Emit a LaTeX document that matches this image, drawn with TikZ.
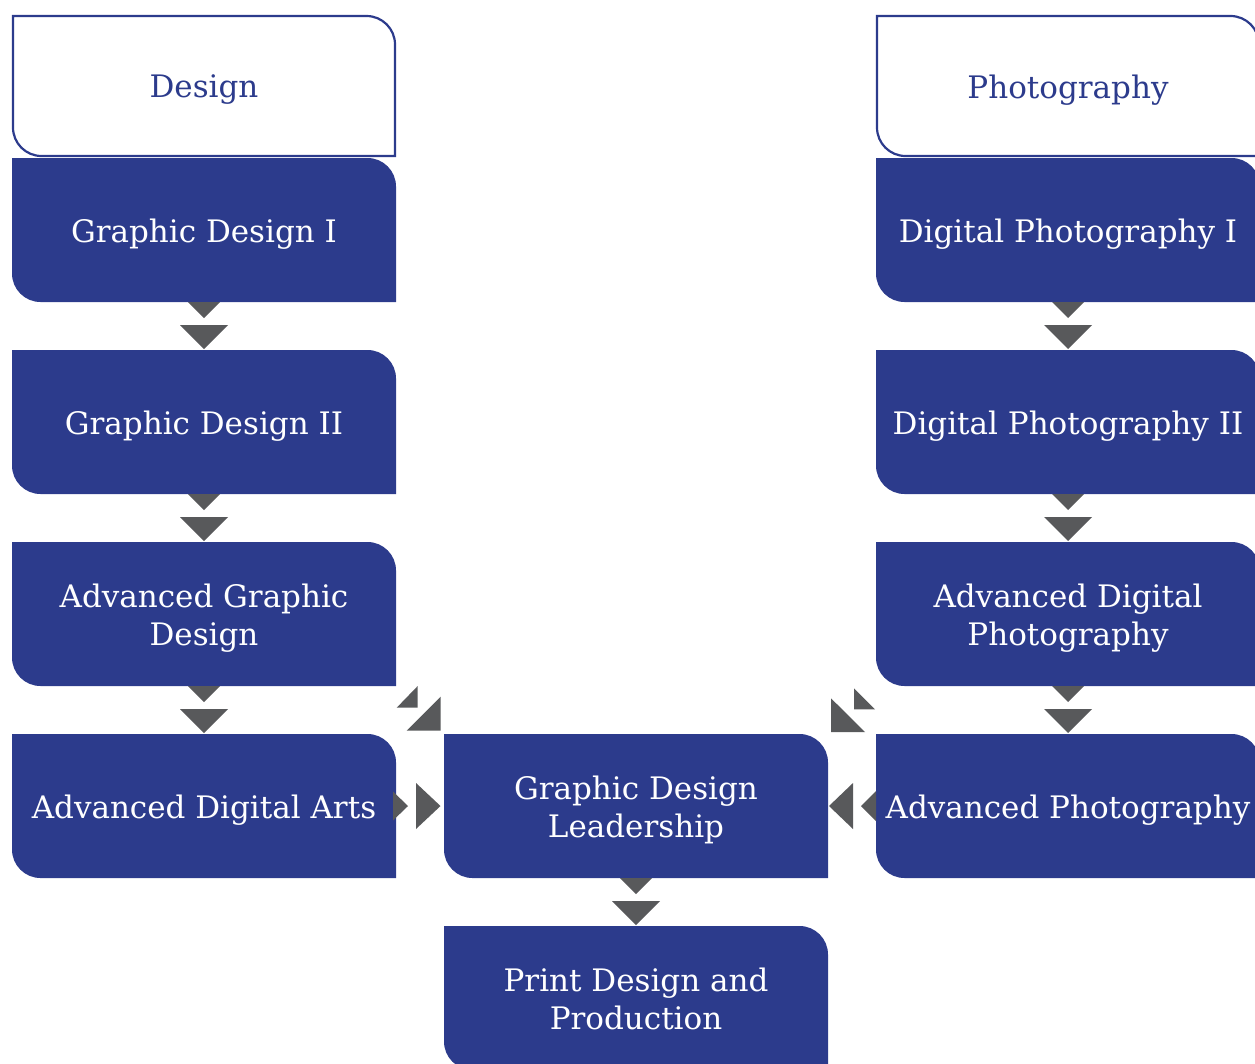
\documentclass[tikz,border=0pt]{standalone}
\usepackage{fontspec}
\setmainfont{DejaVu Serif}
\usetikzlibrary{calc}
\pgfdeclarelayer{bg}
\pgfsetlayers{bg,main}
\definecolor{navy}{RGB}{44,59,140}
\definecolor{arrgray}{RGB}{88,89,91}
\tikzset{
 boxnode/.style={minimum width=384pt, minimum height=144pt, inner sep=0pt, outer sep=0pt},
 headnode/.style={boxnode, minimum width=382pt, minimum height=140pt},
 boxtext/.style={inner sep=0pt, align=center, text=white, font=\fontsize{31}{38}\selectfont},
 headtext/.style={boxtext, text=navy},
 boxfill/.style={fill=navy},
 headdraw/.style={draw=navy, line width=2.2pt, fill=white},
 arr/.style={fill=arrgray},
}
\newcommand\cornershape[2]{%
 \begin{pgfonlayer}{bg}
 \path[#2] (#1.north west) -- ([xshift=-28.5pt]#1.north east) arc[start angle=90,end angle=0,radius=28.5pt] -- (#1.south east) -- ([xshift=28.5pt]#1.south west) arc[start angle=270,end angle=180,radius=28.5pt] -- cycle;
 \end{pgfonlayer}}
\newcommand\mkbox[5][-4]{% [text shift], style, name, position, text
 \node[#2node] (#3) at (#4) {};
 \node[#2text] (#3t) at ($(#3.center)+(0,#1)$) {#5};}
\newcommand\downarr[2]{%
 \fill[arr] ($(#1.south)+(-16,0)$) -- ($(#1.south)+(16,0)$) -- ($(#1.south)+(0,-16)$) -- cycle;
 \fill[arr] ($(#2.north)+(-24,25)$) -- ($(#2.north)+(24,25)$) -- ($(#2.north)+(0,1)$) -- cycle;}
\begin{document}
\begin{tikzpicture}[x=1pt,y=1pt]
\useasboundingbox (0,0) rectangle (1255,-1063);
\clip (0,0) rectangle (1255,-1063);
% headers
\mkbox{head}{hd}{204,-86}{Design}
\mkbox{head}{hp}{1068,-86}{Photography}
\cornershape{hd}{headdraw}
\cornershape{hp}{headdraw}
% boxes
\mkbox{box}{g1}{204,-230}{Graphic Design I}
\mkbox{box}{g2}{204,-422}{Graphic Design II}
\mkbox{box}{agd}{204,-614}{Advanced Graphic\\Design}
\mkbox{box}{ada}{204,-806}{Advanced Digital Arts}
\mkbox{box}{dp1}{1068,-230}{Digital Photography I}
\mkbox{box}{dp2}{1068,-422}{Digital Photography II}
\mkbox{box}{adp}{1068,-614}{Advanced Digital\\Photography}
\mkbox{box}{ap}{1068,-806}{Advanced Photography}
\mkbox{box}{gdl}{636,-806}{Graphic Design\\Leadership}
\mkbox[-1]{box}{pdp}{636,-998}{Print Design and\\Production}
\foreach \n in {g1,g2,agd,ada,dp1,dp2,adp,ap,gdl,pdp}{\cornershape{\n}{boxfill}}
% vertical connectors
\downarr{g1}{g2}
\downarr{g2}{agd}
\downarr{agd}{ada}
\downarr{dp1}{dp2}
\downarr{dp2}{adp}
\downarr{adp}{ap}
\downarr{gdl}{pdp}
% horizontal connectors
\fill[arr] ($(ada.east)+(-3,14.5)$) -- ($(ada.east)+(12,0)$) -- ($(ada.east)+(-3,-14.5)$) -- cycle;
\fill[arr] ($(gdl.west)+(-28,23)$) -- ($(gdl.west)+(-3.5,0)$) -- ($(gdl.west)+(-28,-23)$) -- cycle;
\fill[arr] ($(ap.west)+(0,15)$) -- ($(ap.west)+(-15,0)$) -- ($(ap.west)+(0,-15)$) -- cycle;
\fill[arr] ($(gdl.east)+(25,23)$) -- ($(gdl.east)+(1,0)$) -- ($(gdl.east)+(25,-23)$) -- cycle;
% diagonal connectors
\fill[arr] ($(agd.south east)+(0.7,-21.7)$) -- ($(agd.south east)+(21.7,-21.7)$) -- ($(agd.south east)+(21.7,0)$) -- cycle;
\fill[arr] ($(gdl.north west)+(-37.3,3.3)$) -- ($(gdl.north west)+(-3.3,3.3)$) -- ($(gdl.north west)+(-3.3,37.3)$) -- cycle;
\fill[arr] ($(adp.south west)+(-22,-2.3)$) -- ($(adp.south west)+(-22,-23.3)$) -- ($(adp.south west)+(-1,-23.3)$) -- cycle;
\fill[arr] ($(gdl.north east)+(3,35.7)$) -- ($(gdl.north east)+(3,2)$) -- ($(gdl.north east)+(37,2)$) -- cycle;
\end{tikzpicture}
\end{document}
